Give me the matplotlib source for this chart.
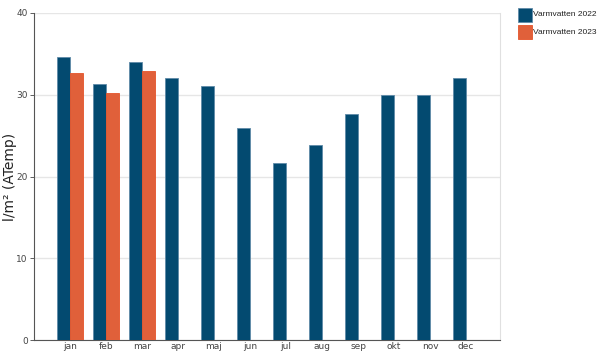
import numpy as np
import matplotlib.pyplot as plt
from matplotlib.patches import Rectangle

months = ['jan', 'feb', 'mar', 'apr', 'maj', 'jun', 'jul', 'aug', 'sep', 'okt', 'nov', 'dec']
vv_2022 = [34.6, 31.3, 34.0, 32.1, 31.1, 25.9, 21.6, 23.9, 27.7, 30.0, 30.0, 32.0]
vv_2023 = [32.7, 30.2, 32.95]
series_labels = ['Varmvatten 2022', 'Varmvatten 2023']

blue = '#034a70'
orange = '#e0603a'
edges = ['#5f8aa8', '#e5542a']

W, H = 600, 354
fig = plt.figure(figsize=(W / 100, H / 100), dpi=100)
ax = fig.add_axes([34 / W, 14 / H, 466 / W, 327 / H])

x = np.arange(len(months))
w = 0.36
ax.bar(x - w / 2, vv_2022, width=w, color=blue, edgecolor=edges[0], linewidth=0.6, zorder=3)
ax.bar(x[:len(vv_2023)] + w / 2, vv_2023, width=w, color=orange, edgecolor=edges[1],
       linewidth=0.6, zorder=3)

ax.set_xlim(-1, 11.94)
ax.set_ylim(0, 40)
ax.set_yticks([0, 10, 20, 30, 40])
ax.set_xticks(x)
ax.set_xticklabels(months)
ax.tick_params(axis='both', labelsize=6.5, colors='#444444', length=3, width=0.6, pad=1.5)
ax.tick_params(axis='x', length=0, pad=1.5)
ax.grid(axis='y', color='#e6e6e6', linewidth=1, zorder=0)
ax.spines['top'].set_visible(False)
ax.spines['right'].set_color('#e0e0e0')
ax.spines['left'].set_color('#555555')
ax.spines['bottom'].set_color('#555555')
ax.spines['left'].set_linewidth(0.8)
ax.spines['bottom'].set_linewidth(0.8)
ax.set_ylabel('l/m² (ATemp)', fontsize=10, color='#222222')
ax.yaxis.set_label_coords(-17 / 466, 0.5)

# legend to the right of the plot
for i, (lab, fc) in enumerate(zip(series_labels, [blue, orange])):
    top = 8 + i * 17
    fig.patches.append(Rectangle((518 / W, 1 - (top + 14) / H), 14 / W, 14 / H,
                                 facecolor=fc, edgecolor=edges[i], linewidth=0.6,
                                 transform=fig.transFigure))
    fig.text(533 / W, 1 - (top + 7) / H, lab, fontsize=6, family='Liberation Sans',
             color='#222222', va='center', ha='left')

fig.savefig('out.png', dpi=100)
